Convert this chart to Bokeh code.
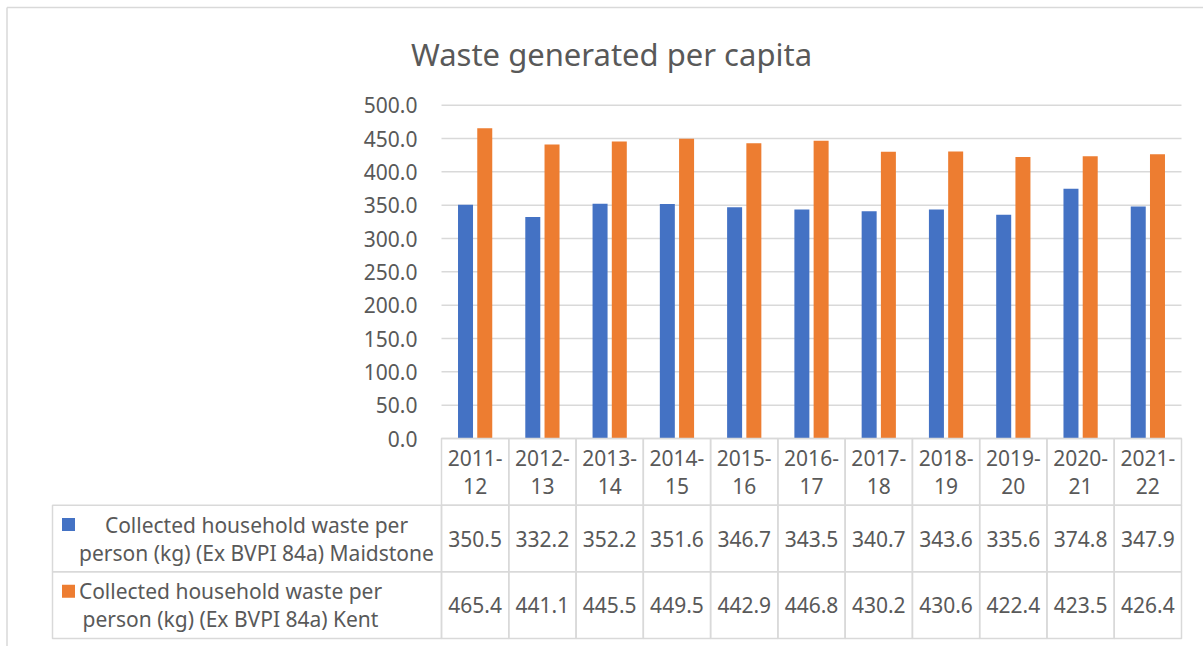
from bokeh.plotting import figure
from bokeh.models import Range1d, ColumnDataSource
from bokeh.core.properties import value
from bokeh.embed import file_html
from bokeh.resources import INLINE

# ---------------- data ----------------
years = ["2011-12", "2012-13", "2013-14", "2014-15", "2015-16", "2016-17",
         "2017-18", "2018-19", "2019-20", "2020-21", "2021-22"]
maidstone = [350.5, 332.2, 352.2, 351.6, 346.7, 343.5, 340.7, 343.6, 335.6, 374.8, 347.9]
kent = [465.4, 441.1, 445.5, 449.5, 442.9, 446.8, 430.2, 430.6, 422.4, 423.5, 426.4]
series_lines = [
    ["Collected household waste per", "person (kg) (Ex BVPI 84a) Maidstone"],
    ["Collected household waste per", "person (kg) (Ex BVPI 84a) Kent"],
]
y_ticks = [0, 50, 100, 150, 200, 250, 300, 350, 400, 450, 500]
title_text = "Waste generated per capita"

# ---------------- styles ----------------
BLUE = "#4472C4"
ORANGE = "#ED7D31"
TXT = "#595959"
GRID = "#d9d9d9"
FONT = value("Noto Sans")
FS = "21px"
W, H = 1203, 646

n = len(years)
PLOT_L, PLOT_R = 441, 1181      # plot area in page pixels
ZERO_Y = 438                    # pixel row of the value 0
K = (PLOT_R - PLOT_L) / n       # px per category
S = 1.5                         # value units per px
ROW = 100                       # table row height in value units
LABEL_W = (PLOT_L - 52) / K     # label column width in category units

def px_x(px):
    return (px - PLOT_L) / K

def px_y(py):
    return (ZERO_Y - py) * S

p = figure(width=W, height=H,
           x_range=Range1d(px_x(0), px_x(W)),
           y_range=Range1d(px_y(H), px_y(0)),
           output_backend="svg", toolbar_location=None,
           x_axis_location=None, y_axis_location=None,
           min_border=0, min_border_left=0, min_border_right=0,
           min_border_top=0, min_border_bottom=0)
p.outline_line_color = None
p.grid.grid_line_color = None
p.background_fill_color = "white"
p.border_fill_color = "white"

xc = [i + 0.5 for i in range(n)]

# outer chart border (left/top)
p.segment(x0=[px_x(6.5), px_x(6.5)], y0=[px_y(H), px_y(7)],
          x1=[px_x(6.5), px_x(W)], y1=[px_y(7), px_y(7)],
          line_color=GRID, line_width=1.5)

# gridlines
p.segment(x0=[0] * len(y_ticks), y0=y_ticks, x1=[n] * len(y_ticks), y1=y_ticks,
          line_color=GRID, line_width=1.5)

# y tick labels
p.text(x=[0] * len(y_ticks), y=y_ticks, text=[f"{t:.1f}" for t in y_ticks], x_offset=-24,
       text_align="right", text_baseline="middle", text_font=FONT, text_font_size=FS,
       text_color=TXT)

# bars
p.vbar(x=[x - 0.143 for x in xc], top=maidstone, width=0.223, fill_color=BLUE, line_color=None)
p.vbar(x=[x + 0.143 for x in xc], top=kent, width=0.223, fill_color=ORANGE, line_color=None)

# title
p.text(x=[px_x(611)], y=[px_y(53)], text=[title_text], text_align="center",
       text_baseline="alphabetic", text_font=FONT, text_font_size="31px", text_color=TXT)

# ---------------- data table ----------------
hy = -ROW / 2
r1 = -1.5 * ROW
r2 = -2.5 * ROW
for yc in (hy, r1, r2):
    p.rect(x=xc, y=[yc] * n, width=1, height=ROW, fill_color=None,
           line_color=GRID, line_width=1.5)
p.rect(x=[-LABEL_W / 2] * 2, y=[r1, r2], width=LABEL_W, height=ROW, fill_color=None,
       line_color=GRID, line_width=1.5)

head_top = [y.split("-")[0] + "-" for y in years]
head_bot = [y.split("-")[1] for y in years]
common = dict(text_align="center", text_baseline="middle", text_font=FONT,
              text_font_size=FS, text_color=TXT)
p.text(x=xc, y=[hy] * n, text=head_top, y_offset=-14, **common)
p.text(x=xc, y=[hy] * n, text=head_bot, y_offset=14, **common)
p.text(x=xc, y=[r1] * n, text=[f"{v:.1f}" for v in maidstone], **common)
p.text(x=xc, y=[r2] * n, text=[f"{v:.1f}" for v in kent], **common)

label_cx = [px_x(256), px_x(230)]
key_x = px_x(68)
for k, (yc, lines, col) in enumerate(zip((r1, r2), series_lines, (BLUE, ORANGE))):
    p.text(x=[label_cx[k]], y=[yc], text=[lines[0]], y_offset=-14, **common)
    p.text(x=[label_cx[k]], y=[yc], text=[lines[1]], y_offset=14, **common)
    p.rect(x=[key_x], y=[yc + 14 * S], width=13, height=13, width_units="screen",
           height_units="screen", fill_color=col, line_color=None)

open("out.html", "w").write(file_html(p, INLINE))
